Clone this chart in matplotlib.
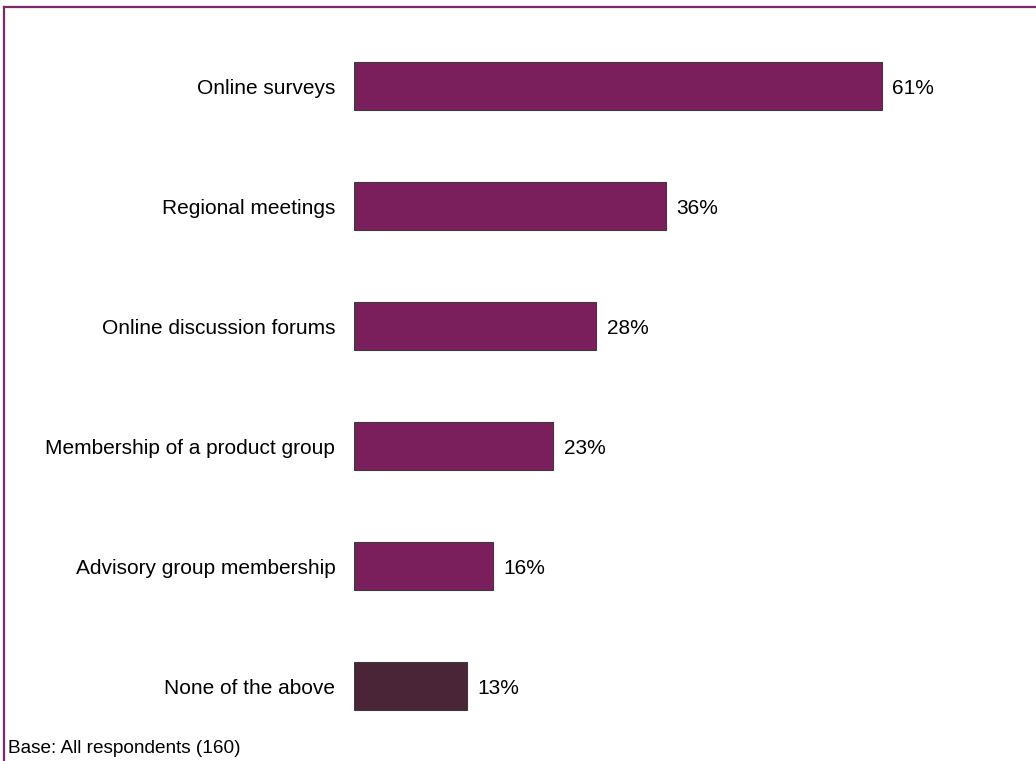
import matplotlib.pyplot as plt
from matplotlib.lines import Line2D

plt.rcParams['font.family'] = ['Liberation Sans', 'DejaVu Sans']

categories = [
    "Online surveys",
    "Regional meetings",
    "Online discussion forums",
    "Membership of a product group",
    "Advisory group membership",
    "None of the above",
]
values = [61, 36, 28, 23, 16, 13]
bar_colors = ["#7b1f5c"] * 5 + ["#4a2537"]
base_note = "Base: All respondents (160)"

W, H = 1036, 761
fig = plt.figure(figsize=(W / 100, H / 100), dpi=100)
ax = fig.add_axes([354 / W, 15 / H, 606 / W, 720 / H])

ypos = list(range(len(categories)))
ax.barh(ypos, values, height=0.4, color=bar_colors, edgecolor="#3a3a3a", linewidth=0.8)
for y, v in zip(ypos, values):
    ax.text(v + 1.2, y, f"{v}%", va="center_baseline", ha="left", fontsize=15)

ax.set_xlim(0, 70)
ax.set_ylim(len(categories) - 0.5, -0.5)
ax.set_yticks(ypos)
ax.set_yticklabels(categories, fontsize=15)
ax.tick_params(axis="y", length=0, pad=13.5)
ax.set_xticks([])
for s in ax.spines.values():
    s.set_visible(False)

# frame lines along the top and left edge
fig.add_artist(Line2D([3.5 / W, 1.0], [1 - 6.5 / H, 1 - 6.5 / H],
                      transform=fig.transFigure, color="#7a2a6a", lw=1.6))
fig.add_artist(Line2D([3.5 / W, 3.5 / W], [0, 1 - 6.5 / H],
                      transform=fig.transFigure, color="#7a2a6a", lw=1.6))

fig.text(8 / W, 4 / H, base_note, fontsize=13.7, ha="left", va="bottom")

fig.savefig("out.png", dpi=100)
